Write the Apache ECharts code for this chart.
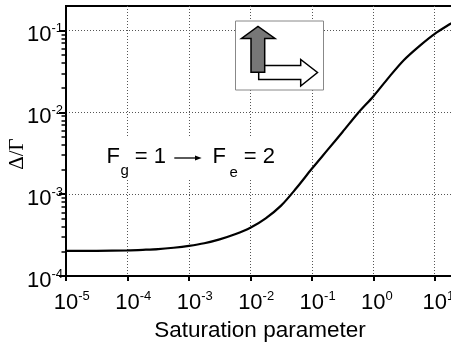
<!DOCTYPE html>
<html><head><meta charset="utf-8">
<script src="https://cdn.jsdelivr.net/npm/echarts@6/dist/echarts.min.js"></script>
<style>html,body{margin:0;padding:0;background:#fff}#c{width:451px;height:345px}</style>
</head><body><div id="c"></div>
<script>
// tick exponents (decades) for the log-log axes
const xTickExponents = [-5, -4, -3, -2, -1, 0, 1];
const yTickExponents = [-4, -3, -2, -1];
// curve: log10(saturation parameter) and log10(Δ/Γ)
const log10Saturation = [-5, -4.5, -4, -3.75, -3.5, -3.25, -3, -2.75, -2.5, -2.25, -2, -1.75, -1.5, -1.25, -1, -0.75, -0.5, -0.25, 0, 0.25, 0.5, 0.75, 1, 1.25, 1.31];
const log10Ratio = [-3.694, -3.692, -3.686, -3.68, -3.672, -3.655, -3.632, -3.60, -3.552, -3.49, -3.41, -3.295, -3.14, -2.925, -2.69, -2.465, -2.24, -2.01, -1.805, -1.575, -1.36, -1.19, -1.04, -0.92, -0.895];
const xTitle = 'Saturation parameter';
const yTitle = 'Δ/Γ';

const yMinorTicks = [];
for (const n of yTickExponents) {
  for (let k = 2; k <= 9; k++) {
    const v = n + Math.log10(k);
    if (v < -0.7) yMinorTicks.push(v);
  }
}

const SANS = 'Liberation Sans, Arial, Helvetica, sans-serif';
const SERIF = 'Liberation Serif, Times New Roman, serif';
const chart = echarts.init(document.getElementById('c'), null, {renderer: 'canvas'});

const richBase = {
  b: {fontFamily: SANS, fontSize: 22, color: '#000', lineHeight: 24, verticalAlign: 'bottom'},
  bn: {fontFamily: SANS, fontSize: 22, color: '#000', lineHeight: 24, verticalAlign: 'bottom', padding: [0, 0, 0, 11.6]},
  bp: {fontFamily: SANS, fontSize: 22, color: '#000', lineHeight: 24, verticalAlign: 'bottom', padding: [0, 0, 0, 7.2]},
  e: {fontFamily: SANS, fontSize: 13, color: '#000', lineHeight: 12, verticalAlign: 'top'}
};

const gridLine = {show: true, lineStyle: {color: '#555', type: [1, 2], width: 1}};

chart.setOption({
  animation: false,
  grid: {
    left: 66, right: -3, top: 6, bottom: 69, show: true, borderColor: '#000', borderWidth: 2,
    containLabel: false, outerBoundsMode: 'none'
  },
  xAxis: {
    type: 'value', min: -5, max: 1.314,
    axisLine: {show: true, onZero: false, lineStyle: {color: '#000', width: 2}},
    axisTick: {show: true, customValues: xTickExponents, length: 5, lineStyle: {color: '#000', width: 2}},
    axisLabel: {
      customValues: xTickExponents, margin: 14, fontSize: 22, fontFamily: SANS, color: '#000',
      formatter: v => { const e = Math.round(v); return '{' + (e < 0 ? 'bn' : 'bp') + '|10}{e|' + e + '}'; },
      rich: richBase
    },
    splitLine: gridLine,
    name: xTitle, nameLocation: 'middle', nameGap: 40,
    nameTextStyle: {fontFamily: SANS, fontSize: 22.5, color: '#000'}
  },
  yAxis: [{
    type: 'value', min: -4, max: -0.7, position: 'left',
    axisLine: {show: true, onZero: false, lineStyle: {color: '#000', width: 2}},
    axisTick: {show: true, customValues: yTickExponents, length: 7, lineStyle: {color: '#000', width: 2}},
    axisLabel: {
      customValues: yTickExponents, margin: 3, padding: [7, 0, 0, 0], fontSize: 22, fontFamily: SANS, color: '#000',
      formatter: v => '{b|10}{e|' + Math.round(v) + '}',
      rich: richBase
    },
    splitLine: gridLine
  }, {
    type: 'value', min: -4, max: -0.7, position: 'left',
    axisLine: {show: false, onZero: false},
    axisTick: {show: true, customValues: yMinorTicks, length: 4.5, lineStyle: {color: '#000', width: 1.5}},
    axisLabel: {show: false},
    splitLine: {show: false}
  }],
  series: [{
    type: 'line', yAxisIndex: 0,
    data: log10Saturation.map((x, i) => [x, log10Ratio[i]]),
    symbol: 'none', showSymbol: false, smooth: 0.3, clip: true, z: 5,
    lineStyle: {color: '#000', width: 2.2}
  }],
  graphic: [
    // y-axis title, rotated
    {type: 'text', z: 101, x: 17, y: 154, rotation: Math.PI / 2,
     style: {text: yTitle, font: '21px ' + SERIF, fill: '#000', align: 'center', verticalAlign: 'middle'}},
    // inset box with arrows
    {type: 'rect', z: 100, shape: {x: 235.5, y: 21, width: 88, height: 69}, style: {fill: '#fff', stroke: '#888', lineWidth: 1}},
    {type: 'polygon', z: 101, shape: {points: [[258.7, 65.5], [300.7, 65.5], [300.7, 59.5], [317.5, 72.5], [300.7, 86], [300.7, 79.5], [258.7, 79.5]]}, style: {fill: '#fff', stroke: '#000', lineWidth: 1.5}},
    {type: 'polygon', z: 102, shape: {points: [[251, 72.3], [251, 38.5], [241.5, 38.5], [258, 26.5], [275, 38.5], [264.7, 38.5], [264.7, 72.3]]}, style: {fill: '#777', stroke: '#000', lineWidth: 1.5}},
    // transition annotation
    {type: 'rect', z: 100, shape: {x: 100, y: 138, width: 182, height: 40}, style: {fill: '#fff'}},
    {type: 'text', z: 101, x: 106.5, y: 156.5, style: {text: 'F', font: '22px ' + SANS, fill: '#000', verticalAlign: 'middle'}},
    {type: 'text', z: 101, x: 120.5, y: 171, style: {text: 'g', font: '15px ' + SANS, fill: '#000', verticalAlign: 'middle'}},
    {type: 'text', z: 101, x: 134.7, y: 156.5, style: {text: '= 1', font: '22px ' + SANS, fill: '#000', verticalAlign: 'middle'}},
    {type: 'line', z: 101, shape: {x1: 174.3, y1: 158, x2: 197, y2: 158}, style: {stroke: '#000', lineWidth: 1.3}},
    {type: 'polygon', z: 101, shape: {points: [[195, 155.6], [201.7, 158], [195, 160.4]]}, style: {fill: '#000'}},
    {type: 'text', z: 101, x: 212.5, y: 156.5, style: {text: 'F', font: '22px ' + SANS, fill: '#000', verticalAlign: 'middle'}},
    {type: 'text', z: 101, x: 229.5, y: 172.5, style: {text: 'e', font: '15px ' + SANS, fill: '#000', verticalAlign: 'middle'}},
    {type: 'text', z: 101, x: 243.7, y: 156.5, style: {text: '= 2', font: '22px ' + SANS, fill: '#000', verticalAlign: 'middle'}}
  ]
});
</script>
</body></html>
